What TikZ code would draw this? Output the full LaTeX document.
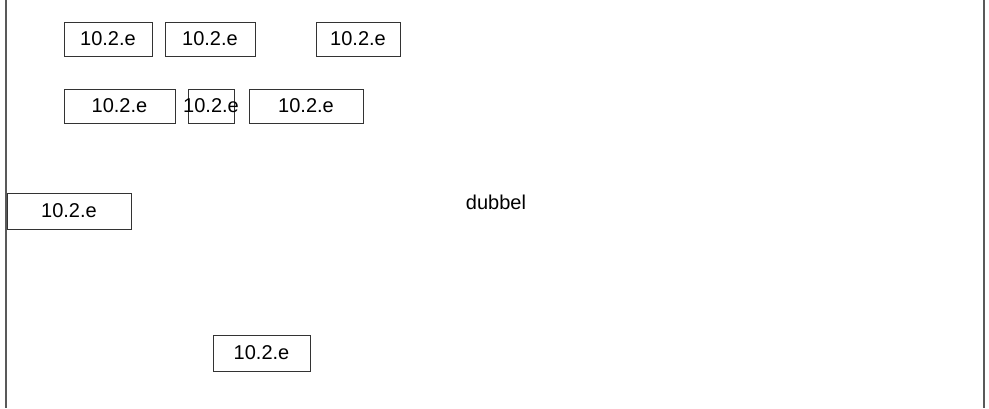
\documentclass[tikz,border=0pt]{standalone}
\usepackage{fontspec}
\setmainfont{Liberation Sans}

\tikzset{
  label box/.style={draw=black!80, line width=0.5pt, inner sep=0pt,
    minimum height=17pt, font=\fontsize{10}{12}\selectfont},
  side line/.style={draw=black!65, line width=1pt}
}

\begin{document}
\begin{tikzpicture}[x=0.5pt, y=-0.5pt]

\useasboundingbox (0,0) rectangle (989,408);

% Cadre lateral
\draw[side line] (6,0) -- (6,408);
\draw[side line] (984,0) -- (984,408);

% Premiere rangee
\node[label box, minimum width=44pt] (b1) at (108,39) {10.2.e};
\node[label box, minimum width=45pt] (b2) at (210,39) {10.2.e};
\node[label box, minimum width=42pt] (b3) at (358,39) {10.2.e};

% Deuxieme rangee
\node[label box, minimum width=55.5pt] (b4) at (119.5,106) {10.2.e};
\node[label box, minimum width=23pt] (b5) at (211,106) {\makebox[0pt]{10.2.e}};
\node[label box, minimum width=57pt] (b6) at (306,106) {10.2.e};

% Boites isolees
\node[label box, minimum width=62pt, minimum height=18pt] (b7) at (69,211) {10.2.e};
\node[label box, minimum width=48.5pt, minimum height=18pt] (b8) at (261.5,353) {10.2.e};

% Texte seul
\node[font=\fontsize{10}{12}\selectfont, inner sep=0pt] (dubbel) at (496,202) {dubbel};

\end{tikzpicture}
\end{document}
